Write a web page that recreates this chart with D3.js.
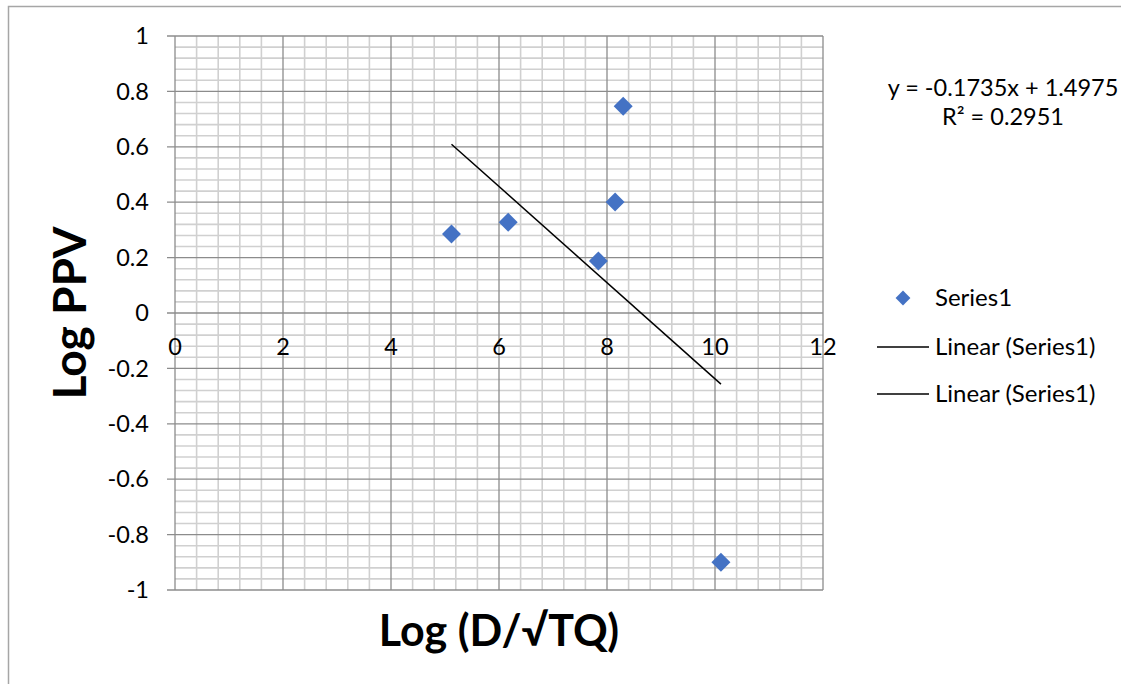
<!DOCTYPE html>
<html>
<head>
<meta charset="utf-8">
<script src="https://cdn.jsdelivr.net/npm/d3@7"></script>
<style>
  body { margin: 0; background: #fff; }
  text { font-family: Lato, "Open Sans", sans-serif; fill: #000; }
</style>
</head>
<body>
<div id="chart"></div>
<script>
// data
var xValues = [5.12, 6.17, 7.84, 8.15, 8.30, 10.11];
var yValues = [0.285, 0.328, 0.188, 0.401, 0.746, -0.90];
var xTicks = [0, 2, 4, 6, 8, 10, 12];
var yTicks = [1, 0.8, 0.6, 0.4, 0.2, 0, -0.2, -0.4, -0.6, -0.8, -1];
var trendSlope = -0.1735, trendIntercept = 1.4975;
var equationText = "y = -0.1735x + 1.4975";
var r2Text = "R\u00B2 = 0.2951";
var legendLabels = ["Series1", "Linear (Series1)", "Linear (Series1)"];

var width = 1121, height = 684;
var margin = {top: 36, right: 298, bottom: 94, left: 175};
var pw = width - margin.left - margin.right,
    ph = height - margin.top - margin.bottom;

var svg = d3.select("#chart").append("svg")
    .attr("width", width)
    .attr("height", height);

// outer frame (only left and top visible)
svg.append("path")
    .attr("d", "M8.5," + height + "V6.5H" + width)
    .attr("fill", "none")
    .attr("stroke", "#a6a6a6")
    .attr("stroke-width", 1.5);

var g = svg.append("g")
    .attr("transform", "translate(" + margin.left + "," + margin.top + ")");

var x = d3.scaleLinear().domain([0, 12]).range([0, pw]);
var y = d3.scaleLinear().domain([-1, 1]).range([ph, 0]);

// minor grid
var xMinor = d3.range(0, 12.001, 0.4).filter(function(v) { return Math.abs(v / 2 - Math.round(v / 2)) > 1e-6; });
var yMinor = d3.range(-1, 1.001, 0.04).filter(function(v) { return Math.abs(v / 0.2 - Math.round(v / 0.2)) > 1e-6; });

g.selectAll(".xminor").data(xMinor).enter().append("line")
    .attr("x1", function(d) { return x(d); }).attr("x2", function(d) { return x(d); })
    .attr("y1", 0).attr("y2", ph)
    .attr("stroke", "#d0d0d0").attr("stroke-width", 1.6);

g.selectAll(".yminor").data(yMinor).enter().append("line")
    .attr("y1", function(d) { return y(d); }).attr("y2", function(d) { return y(d); })
    .attr("x1", 0).attr("x2", pw)
    .attr("stroke", "#d0d0d0").attr("stroke-width", 1.6);

// major grid
g.selectAll(".xmajor").data(xTicks).enter().append("line")
    .attr("x1", function(d) { return x(d); }).attr("x2", function(d) { return x(d); })
    .attr("y1", 0).attr("y2", ph)
    .attr("stroke", "#8c8c8c").attr("stroke-width", 1.3);

g.selectAll(".ymajor").data(yTicks).enter().append("line")
    .attr("y1", function(d) { return y(d); }).attr("y2", function(d) { return y(d); })
    .attr("x1", -8).attr("x2", pw)
    .attr("stroke", "#8c8c8c").attr("stroke-width", 1.3);

// y tick labels
g.selectAll(".ylab").data(yTicks).enter().append("text")
    .attr("x", -26)
    .attr("y", function(d) { return y(d); })
    .attr("dy", "0.35em")
    .attr("text-anchor", "end")
    .style("font-size", "23.5px")
    .text(function(d) { return d; });

// x tick labels, under the y=0 axis
g.selectAll(".xlab").data(xTicks).enter().append("text")
    .attr("x", function(d) { return x(d); })
    .attr("y", y(0) + 34)
    .attr("dy", "0.35em")
    .attr("text-anchor", "middle")
    .style("font-size", "23.5px")
    .text(function(d) { return d; });

// trendline
var xExt = d3.extent(xValues);
var line = d3.line()
    .x(function(d) { return x(d); })
    .y(function(d) { return y(trendSlope * d + trendIntercept); });
g.append("path")
    .datum(xExt)
    .attr("d", line)
    .attr("fill", "none")
    .attr("stroke", "#000")
    .attr("stroke-width", 1.5);

// points
var diamond = d3.symbol().type(d3.symbolSquare).size(180);
g.selectAll(".pt").data(xValues).enter().append("path")
    .attr("d", diamond)
    .attr("transform", function(d, i) { return "translate(" + x(d) + "," + y(yValues[i]) + ") rotate(45)"; })
    .attr("fill", "#4472C4");

// axis titles
svg.append("text")
    .attr("transform", "translate(86," + (margin.top + y(0)) + ") rotate(-90)")
    .attr("text-anchor", "middle")
    .style("font-size", "46px")
    .style("font-weight", "bold")
    .text("Log PPV");

svg.append("text")
    .attr("x", 499)
    .attr("y", 646)
    .attr("text-anchor", "middle")
    .style("font-size", "43px")
    .style("font-weight", "bold")
    .text("Log (D/\u221ATQ)");

// trendline label
svg.append("text").attr("x", 1003).attr("y", 88).attr("dy", "0.35em")
    .attr("text-anchor", "middle").style("font-size", "23.5px").text(equationText);
svg.append("text").attr("x", 1003).attr("y", 117).attr("dy", "0.35em")
    .attr("text-anchor", "middle").style("font-size", "23.5px").text(r2Text);

// legend
var legend = svg.append("g");
var legY = [298, 347, 394];
legend.append("path")
    .attr("d", d3.symbol().type(d3.symbolSquare).size(110))
    .attr("transform", "translate(903," + legY[0] + ") rotate(45)")
    .attr("fill", "#4472C4");
legend.selectAll(".ll").data(legY.slice(1)).enter().append("line")
    .attr("x1", 877).attr("x2", 929)
    .attr("y1", function(d) { return d; }).attr("y2", function(d) { return d; })
    .attr("stroke", "#000").attr("stroke-width", 1.3);
legend.selectAll(".lt").data(legendLabels).enter().append("text")
    .attr("x", 935)
    .attr("y", function(d, i) { return legY[i]; })
    .attr("dy", "0.35em")
    .style("font-size", "24px")
    .text(function(d) { return d; });
</script>
</body>
</html>
